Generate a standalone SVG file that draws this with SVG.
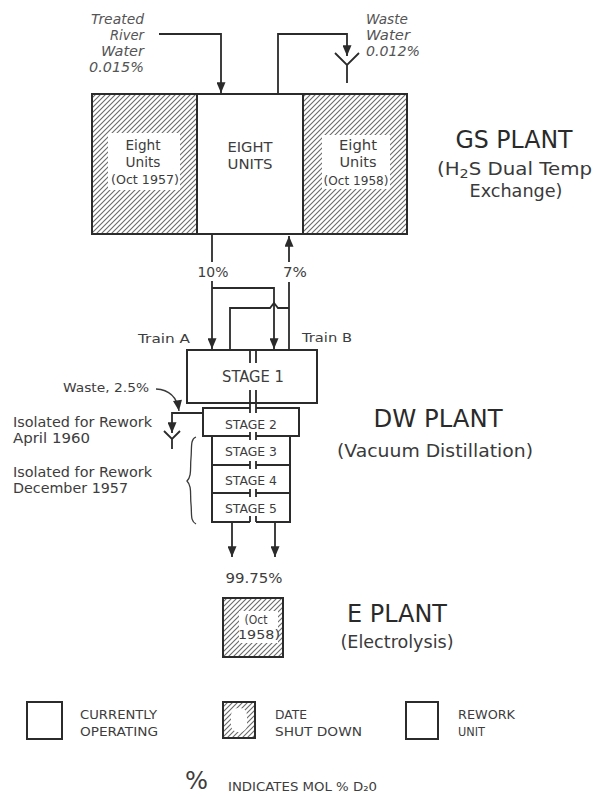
<svg xmlns="http://www.w3.org/2000/svg" width="595" height="797" viewBox="0 0 595 797">
<defs>
<pattern id="hatch" width="5" height="5" patternUnits="userSpaceOnUse">
<rect width="5" height="5" fill="#fff"/>
<path d="M-1,6 L6,-1 M-1,1 L1,-1 M4,6 L6,4" stroke="#6a6a6a" stroke-width="1.1"/>
</pattern>
<marker id="ah" viewBox="0 0 12 10" markerWidth="12" markerHeight="9" refX="12" refY="5" orient="auto" markerUnits="userSpaceOnUse">
<path d="M0,0 L12,5 L0,10 Z" fill="#2b2b2b"/>
</marker>
<style>
.t{font-family:"DejaVu Sans","Liberation Sans",sans-serif;fill:#3d3d3d;}
.ti{font-family:"DejaVu Sans","Liberation Sans",sans-serif;font-style:italic;fill:#555;}
.big{font-family:"DejaVu Sans","Liberation Sans",sans-serif;fill:#2a2a2a;font-size:24px;}
.sub{font-family:"DejaVu Sans","Liberation Sans",sans-serif;fill:#3a3a3a;font-size:18px;}
.ln{stroke:#2b2b2b;stroke-width:1.8;fill:none;}
.thin{stroke:#3a3a3a;stroke-width:1.3;fill:none;}
.box{stroke:#2b2b2b;stroke-width:2;fill:#fff;}
.open{stroke:#2b2b2b;stroke-width:2;fill:none;}
.hat{stroke:#2b2b2b;stroke-width:2;fill:url(#hatch);}
.wh{fill:#fff;stroke:none;}
</style>
</defs>
<rect width="595" height="797" fill="#fff"/>

<g id="gs-plant">
<rect class="hat" x="92" y="94" width="105" height="140"/>
<rect class="box" x="197" y="94" width="106" height="140"/>
<rect class="hat" x="303" y="94" width="104" height="140"/>
<rect class="wh" x="108" y="133" width="72" height="57"/>
<rect class="wh" x="322" y="135" width="68" height="54"/>
<text class="t" x="143" y="150" font-size="13.5" text-anchor="middle" textLength="35" lengthAdjust="spacingAndGlyphs">Eight</text>
<text class="t" x="143" y="167" font-size="13.5" text-anchor="middle" textLength="35" lengthAdjust="spacingAndGlyphs">Units</text>
<text class="t" x="145" y="184" font-size="11.5" text-anchor="middle" textLength="68" lengthAdjust="spacingAndGlyphs">(Oct 1957)</text>
<text class="t" x="250" y="152" font-size="14" text-anchor="middle" textLength="45" lengthAdjust="spacingAndGlyphs">EIGHT</text>
<text class="t" x="250" y="169" font-size="14" text-anchor="middle" textLength="45" lengthAdjust="spacingAndGlyphs">UNITS</text>
<text class="t" x="358" y="150" font-size="13.5" text-anchor="middle" textLength="38" lengthAdjust="spacingAndGlyphs">Eight</text>
<text class="t" x="358" y="167" font-size="13.5" text-anchor="middle" textLength="37" lengthAdjust="spacingAndGlyphs">Units</text>
<text class="t" x="356" y="185" font-size="11.5" text-anchor="middle" textLength="65" lengthAdjust="spacingAndGlyphs">(Oct 1958)</text>
<text class="big" x="514" y="148" text-anchor="middle" textLength="117" lengthAdjust="spacingAndGlyphs">GS PLANT</text>
<text class="sub" x="437" y="175" textLength="155" lengthAdjust="spacingAndGlyphs">(H<tspan font-size="13" dy="3">2</tspan><tspan dy="-3">S Dual Temp</tspan></text>
<text class="sub" x="516" y="197" text-anchor="middle" textLength="93" lengthAdjust="spacingAndGlyphs">Exchange)</text>
</g>

<g id="inputs">
<text class="ti" x="144" y="24" font-size="14" text-anchor="end" textLength="53" lengthAdjust="spacingAndGlyphs">Treated</text>
<text class="ti" x="144" y="40" font-size="14" text-anchor="end" textLength="34" lengthAdjust="spacingAndGlyphs">River</text>
<text class="ti" x="144" y="56" font-size="14" text-anchor="end" textLength="43" lengthAdjust="spacingAndGlyphs">Water</text>
<text class="ti" x="144" y="72" font-size="14" text-anchor="end" textLength="55" lengthAdjust="spacingAndGlyphs">0.015%</text>
<text class="ti" x="366" y="24" font-size="14" textLength="42" lengthAdjust="spacingAndGlyphs">Waste</text>
<text class="ti" x="366" y="40" font-size="14" textLength="44" lengthAdjust="spacingAndGlyphs">Water</text>
<text class="ti" x="366" y="56" font-size="14" textLength="54" lengthAdjust="spacingAndGlyphs">0.012%</text>
</g>

<g id="stage-1">
<rect class="box" x="187" y="350" width="130" height="53"/>
<path class="ln" d="M250,350 V363 M256,350 V363 M250,390 V413 M256,390 V413"/>
<text class="t" x="253" y="382" font-size="15" text-anchor="middle" textLength="62" lengthAdjust="spacingAndGlyphs">STAGE 1</text>
</g>
<g id="stage-2">
<path class="open" d="M250,408 H203 V436 H250 M256,436 H299 V408 H256"/>
<text class="t" x="251" y="429" font-size="12.5" text-anchor="middle" textLength="52" lengthAdjust="spacingAndGlyphs">STAGE 2</text>
</g>
<g id="stage-3">
<path class="open" d="M250,436 H212 V465 H250 M256,465 H290 V436 H256"/>
<path class="ln" d="M250,432 V440 M256,432 V440"/>
<text class="t" x="251" y="456" font-size="12.5" text-anchor="middle" textLength="52" lengthAdjust="spacingAndGlyphs">STAGE 3</text>
</g>
<g id="stage-4">
<path class="open" d="M250,465 H212 V493 H250 M256,493 H290 V465 H256"/>
<path class="ln" d="M250,461 V469 M256,461 V469"/>
<text class="t" x="251" y="485" font-size="12.5" text-anchor="middle" textLength="52" lengthAdjust="spacingAndGlyphs">STAGE 4</text>
</g>
<g id="stage-5">
<path class="open" d="M250,493 H212 V522 H250 M256,522 H290 V493 H256"/>
<path class="ln" d="M250,489 V497 M256,489 V497 M250,516 V522 M256,516 V522"/>
<text class="t" x="251" y="513" font-size="12.5" text-anchor="middle" textLength="52" lengthAdjust="spacingAndGlyphs">STAGE 5</text>
</g>
<g id="dw-label">
<text class="big" x="438" y="427" text-anchor="middle" textLength="129" lengthAdjust="spacingAndGlyphs">DW PLANT</text>
<text class="sub" x="435" y="457" text-anchor="middle" textLength="196" lengthAdjust="spacingAndGlyphs">(Vacuum Distillation)</text>
</g>

<g id="e-plant">
<rect class="hat" x="223" y="598" width="60" height="59"/>
<rect class="wh" x="239" y="611" width="39" height="32"/>
<text class="t" x="256" y="624" font-size="12.5" text-anchor="middle" textLength="23" lengthAdjust="spacingAndGlyphs">(Oct</text>
<text class="t" x="259" y="639" font-size="12.5" text-anchor="middle" textLength="42" lengthAdjust="spacingAndGlyphs">1958)</text>
<text class="big" x="397" y="622" text-anchor="middle" textLength="100" lengthAdjust="spacingAndGlyphs">E PLANT</text>
<text class="sub" x="397" y="648" font-size="17" text-anchor="middle" textLength="113" lengthAdjust="spacingAndGlyphs">(Electrolysis)</text>
</g>

<g id="connectors">
<path class="ln" d="M159,34 H221 V93" marker-end="url(#ah)"/>
<path class="ln" d="M278,94 V34 H347 V56" marker-end="url(#ah)"/>
<path class="ln" d="M335,53 L347,65 L359,53 M347,65 V83"/>
<path class="ln" d="M212,234 V262"/>
<path class="ln" d="M212,281 V349" marker-end="url(#ah)"/>
<path class="ln" d="M212,288 H274 V349" marker-end="url(#ah)"/>
<path class="ln" d="M289,350 V282"/>
<path class="ln" d="M289,262 V236" marker-end="url(#ah)"/>
<path class="ln" d="M230,350 V308 H270 L274,303 L278,308 H289"/>
<path class="thin" d="M156,389 Q176,390 179,411" marker-end="url(#ah)"/>
<path class="ln" d="M203,413 H172 V433" marker-end="url(#ah)"/>
<path class="ln" d="M164,431 L172,439 L180,431 M172,439 V449"/>
<path class="thin" d="M196,437 C190,439 192,448 191,458 C190,468 192,476 187,481 C192,486 190,494 191,504 C192,514 190,521 196,524"/>
<path class="ln" d="M232,522 V557" marker-end="url(#ah)"/>
<path class="ln" d="M275,522 V557" marker-end="url(#ah)"/>
<text class="t" x="213" y="277" font-size="13.5" text-anchor="middle" textLength="31" lengthAdjust="spacingAndGlyphs">10%</text>
<text class="t" x="295" y="277" font-size="13.5" text-anchor="middle" textLength="24" lengthAdjust="spacingAndGlyphs">7%</text>
<text class="t" x="190" y="343" font-size="13" text-anchor="end" textLength="52" lengthAdjust="spacingAndGlyphs">Train A</text>
<text class="t" x="302" y="342" font-size="13" textLength="50" lengthAdjust="spacingAndGlyphs">Train B</text>
<text class="t" x="63" y="392" font-size="13" textLength="86" lengthAdjust="spacingAndGlyphs">Waste, 2.5%</text>
<text class="t" x="13" y="427" font-size="13.5" textLength="139" lengthAdjust="spacingAndGlyphs">Isolated for Rework</text>
<text class="t" x="13" y="443" font-size="13.5" textLength="77" lengthAdjust="spacingAndGlyphs">April 1960</text>
<text class="t" x="13" y="477" font-size="13.5" textLength="139" lengthAdjust="spacingAndGlyphs">Isolated for Rework</text>
<text class="t" x="13" y="493" font-size="13.5" textLength="115" lengthAdjust="spacingAndGlyphs">December 1957</text>
<text class="t" x="254" y="583" font-size="13.5" text-anchor="middle" textLength="57" lengthAdjust="spacingAndGlyphs">99.75%</text>
</g>

<g id="legend">
<rect class="box" x="27" y="702" width="35" height="37"/>
<text class="t" x="80" y="719" font-size="13" textLength="77" lengthAdjust="spacingAndGlyphs">CURRENTLY</text>
<text class="t" x="80" y="735.5" font-size="13" textLength="78" lengthAdjust="spacingAndGlyphs">OPERATING</text>
<rect class="hat" x="223" y="702" width="32" height="36"/>
<rect class="wh" x="231" y="708" width="16" height="24" rx="7"/>
<text class="t" x="275" y="719" font-size="13" textLength="32" lengthAdjust="spacingAndGlyphs">DATE</text>
<text class="t" x="275" y="735.5" font-size="13" textLength="87" lengthAdjust="spacingAndGlyphs">SHUT DOWN</text>
<rect class="box" x="406" y="702" width="32" height="37"/>
<text class="t" x="458" y="719" font-size="13" textLength="57" lengthAdjust="spacingAndGlyphs">REWORK</text>
<text class="t" x="458" y="735.5" font-size="13" textLength="27" lengthAdjust="spacingAndGlyphs">UNIT</text>
<text class="t" x="185" y="789" font-size="24" textLength="23" lengthAdjust="spacingAndGlyphs">%</text>
<text class="t" x="228" y="791" font-size="13" textLength="149" lengthAdjust="spacingAndGlyphs">INDICATES MOL % D₂0</text>
</g>
</svg>
